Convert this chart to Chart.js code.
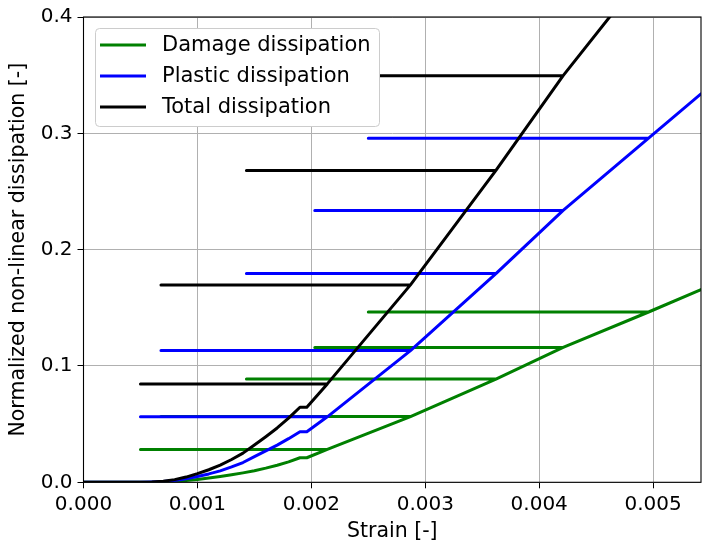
<!DOCTYPE html>
<html>
<head>
<meta charset="utf-8">
<script src="https://cdn.jsdelivr.net/npm/chart.js@4/dist/chart.umd.min.js"></script>
<style>
  html, body { margin: 0; padding: 0; background: #fff; }
  #wrap { width: 702px; height: 545px; }
</style>
</head>
<body>
<div id="wrap"><canvas id="dissChart" width="702" height="545"></canvas></div>
<script>
// envelope (monotonic) points, strain [-]
const strain  = [0, 0.0005, 0.0006, 0.0007, 0.0008, 0.0009, 0.0010, 0.0011, 0.0012, 0.0013, 0.0014,
                 0.0015, 0.0016, 0.0017, 0.0018, 0.0019, 0.00196, 0.00214, 0.00287, 0.00362, 0.00421,
                 0.00496, 0.00542];
const damage  = [0, 0, 0.0001, 0.0003, 0.0008, 0.0015, 0.0025, 0.0036, 0.0049, 0.0064, 0.0081,
                 0.0100, 0.0122, 0.0147, 0.0176, 0.0211, 0.0211, 0.0283, 0.0565, 0.0887, 0.1159,
                 0.1464, 0.1657];
const plastic = [0, 0, 0.0002, 0.0006, 0.0015, 0.0030, 0.0050, 0.0072, 0.0098, 0.0132, 0.0170,
                 0.0220, 0.0270, 0.0320, 0.0375, 0.0434, 0.0434, 0.0563, 0.1132, 0.1794, 0.2337,
                 0.2958, 0.3340];
const total   = [0, 0, 0.0003, 0.0009, 0.0023, 0.0045, 0.0075, 0.0108, 0.0147, 0.0196, 0.0251,
                 0.0320, 0.0392, 0.0467, 0.0551, 0.0645, 0.0645, 0.0846, 0.1697, 0.2681, 0.3496,
                 0.4422, 0.4997];

// unloading cycles: strain at unloading and residual strain reached
const unloadStrain   = [0.00214, 0.00287, 0.00362, 0.00421, 0.00496];
const residualStrain = [0.0005, 0.00068, 0.00143, 0.00203, 0.0025];

const seriesNames  = ["Damage dissipation", "Plastic dissipation", "Total dissipation"];
const seriesColors = ["#008000", "#0000ff", "#000000"];

// walk along the envelope, going back to the residual strain at each unloading
function buildPath(values) {
  const pts = [];
  strain.forEach((x, i) => {
    pts.push({ x: x, y: values[i] });
    const k = unloadStrain.indexOf(x);
    if (k >= 0) {
      pts.push({ x: residualStrain[k], y: values[i] });
      pts.push({ x: x, y: values[i] });
    }
  });
  return pts;
}

const FONT = "DejaVu Sans";

// legend inside the plot, upper left
const innerLegend = {
  id: "innerLegend",
  afterDraw(chart) {
    const ctx = chart.ctx;
    const x0 = 95, y0 = 28, w = 284, h = 98, r = 4;
    ctx.save();
    ctx.beginPath();
    ctx.roundRect(x0 + 0.5, y0 + 0.5, w, h, r);
    ctx.fillStyle = "#ffffff";
    ctx.fill();
    ctx.strokeStyle = "#cccccc";
    ctx.lineWidth = 1;
    ctx.stroke();
    ctx.font = "21px '" + FONT + "'";
    ctx.textBaseline = "middle";
    ctx.fillStyle = "#000";
    seriesNames.forEach((name, i) => {
      const yy = 45 + i * 31;
      ctx.beginPath();
      ctx.moveTo(100, yy);
      ctx.lineTo(146, yy);
      ctx.strokeStyle = seriesColors[i];
      ctx.lineWidth = 3;
      ctx.stroke();
      ctx.fillText(name, 162, yy + 1);
    });
    ctx.restore();
  }
};

// black frame round the plot area
const frame = {
  id: "frame",
  afterDatasetsDraw(chart) {
    const a = chart.chartArea;
    const ctx = chart.ctx;
    ctx.save();
    ctx.strokeStyle = "#000";
    ctx.lineWidth = 1.1;
    ctx.strokeRect(a.left, a.top, a.right - a.left, a.bottom - a.top);
    ctx.restore();
  }
};

const datasets = [damage, plastic, total].map((vals, i) => ({
  label: seriesNames[i],
  data: buildPath(vals),
  showLine: true,
  borderColor: seriesColors[i],
  backgroundColor: seriesColors[i],
  borderWidth: 3,
  borderCapStyle: "round",
  borderJoinStyle: "round",
  pointRadius: 0,
  tension: 0,
  order: 2 - i,
}));

const ctx = document.getElementById("dissChart").getContext("2d");
new Chart(ctx, {
  type: "scatter",
  data: { datasets: datasets },
  options: {
    responsive: false,
    animation: false,
    layout: { padding: { left: 0, right: 1, top: 16, bottom: 0 } },
    plugins: {
      legend: { display: false },
      tooltip: { enabled: false },
    },
    scales: {
      x: {
        type: "linear",
        min: 0,
        max: 0.00542,
        afterFit: (scale) => { scale.height = 62.7; },
        grid: { color: "#b0b0b0", lineWidth: 1, tickColor: "#000", tickLength: 6 },
        border: { display: false },
        ticks: {
          stepSize: 0.001,
          includeBounds: false,
          color: "#000",
          padding: 4,
          maxRotation: 0,
          font: { family: FONT, size: 20 },
          callback: (v) => v.toFixed(3),
        },
        title: {
          display: true,
          text: "Strain [-]",
          color: "#000",
          font: { family: FONT, size: 20.5 },
          padding: { top: 0, bottom: 1 },
        },
      },
      y: {
        type: "linear",
        min: 0,
        max: 0.4,
        afterFit: (scale) => { scale.width = 83.5; },
        grid: { color: "#b0b0b0", lineWidth: 1, tickColor: "#000", tickLength: 6 },
        border: { display: false },
        ticks: {
          stepSize: 0.1,
          color: "#000",
          padding: 5,
          font: { family: FONT, size: 20 },
          callback: (v) => v.toFixed(1),
        },
        title: {
          display: true,
          text: "Normalized non-linear dissipation [-]",
          color: "#000",
          font: { family: FONT, size: 20.5 },
          padding: { top: 6, bottom: 0 },
        },
      },
    },
  },
  plugins: [frame, innerLegend],
});
</script>
</body>
</html>
